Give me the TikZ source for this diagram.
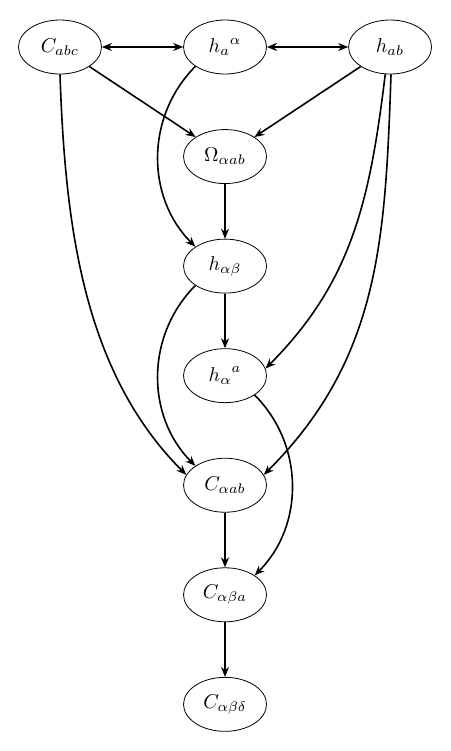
\documentclass[tikz,border=0pt]{standalone}
\usepackage{amsmath,amssymb}
\usetikzlibrary{arrows.meta,shapes.geometric}

\begin{document}
\begin{tikzpicture}[
    >={Stealth[length=5pt,width=4pt]},
    var/.style={ellipse, draw, minimum width=41.5pt, minimum height=27pt, inner sep=1pt},
    dep/.style={->, thick}
]

\useasboundingbox (-3.954,0.826) rectangle (3.954,-12.37);

% Top row
\node[var] (Cabc) at (-2.9,0) {$C_{abc}$};
\node[var] (haAl) at (0,0) {${h_a}^{\alpha}$};
\node[var] (hab) at (2.9,0) {$h_{ab}$};

% Middle column
\node[var] (Oaab) at (0,-1.925) {$\Omega_{\alpha ab}$};
\node[var] (hAB) at (0,-3.85) {$h_{\alpha\beta}$};
\node[var] (hAa) at (0,-5.775) {${h_\alpha}^{a}$};
\node[var] (Caab) at (0,-7.7) {$C_{\alpha ab}$};
\node[var] (CABa) at (0,-9.625) {$C_{\alpha\beta a}$};
\node[var] (CABD) at (0,-11.55) {$C_{\alpha\beta\delta}$};

% Top row links
\draw[dep, <->] (Cabc) -- (haAl);
\draw[dep, <->] (haAl) -- (hab);

% Into Omega
\draw[dep] (Cabc) -- (Oaab);
\draw[dep] (hab) -- (Oaab);

% Straight chain
\draw[dep] (Oaab) -- (hAB);
\draw[dep] (hAB) -- (hAa);
\draw[dep] (Caab) -- (CABa);
\draw[dep] (CABa) -- (CABD);

% Side bends
\draw[dep] (haAl.south west) to[out=-135, in=135] (hAB.north west);
\draw[dep] (hAB.south west) to[out=-135, in=135] (Caab.north west);
\draw[dep] (hAa.south east) to[out=-45, in=45] (CABa.north east);

% Long curves
\draw[dep] (Cabc.south) to[out=-88, in=135, looseness=0.9] (Caab.165);
\draw[dep] (hab.-88) to[out=-92, in=45] (Caab.15);
\draw[dep] (hab.-100) to[out=-97, in=45] (hAa.10);

\end{tikzpicture}
\end{document}
